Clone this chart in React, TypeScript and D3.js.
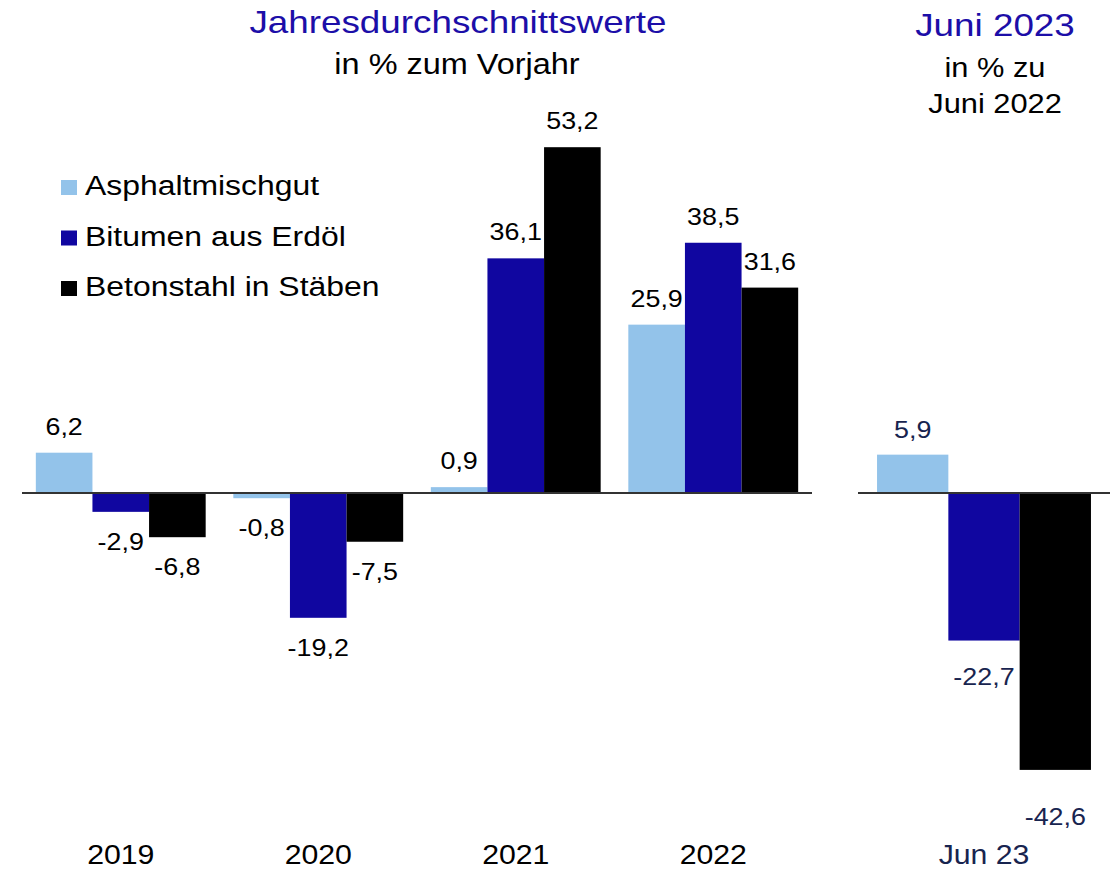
import React from 'react';
import * as d3 from 'd3';

// data
const years = ['2019', '2020', '2021', '2022'];
const seriesNames = ['Asphaltmischgut', 'Bitumen aus Erdöl', 'Betonstahl in Stäben'];
const asphalt = [6.2, -0.8, 0.9, 25.9];
const bitumen = [-2.9, -19.2, 36.1, 38.5];
const betonstahl = [-6.8, -7.5, 53.2, 31.6];
const juneCategory = ['Jun 23'];
const june2023 = [5.9, -22.7, -42.6];

const colors = ['#93c3ea', '#1006a0', '#000000'];
const titleBlue = '#1c0ea8';
const navy = '#18244f';
const font = "'Liberation Sans', Arial, sans-serif";

const fmt = d3.formatLocale({ decimal: ',', thousands: '.', grouping: [3], currency: ['', '€'], minus: '-' }).format('.1f');

const W = 1120;
const H = 871;

const y = d3.scaleLinear().domain([-45, 60]).range([493 + 45 * 6.5, 493 - 60 * 6.5]);

const xLeft = d3.scaleBand<string>().domain(years).range([22, 812]).paddingInner(0.14).paddingOuter(0.07);
const xInnerLeft = d3.scaleBand<string>().domain(seriesNames).range([0, xLeft.bandwidth()]);

const xRight = d3.scaleBand<string>().domain(juneCategory).range([858, 1110]).paddingOuter(0.089);
const xInnerRight = d3.scaleBand<string>().domain(seriesNames).range([0, xRight.bandwidth()]);

// extra label gaps below the negative June bars (as in the reference)
const juneNegGap = [44, 44, 55];

function Txt({ x, y, size, fill = '#000', anchor = 'middle', sx = 1.12, children }: any) {
  return (
    <text
      transform={`translate(${x},${y}) scale(${sx},1)`}
      textAnchor={anchor}
      fontSize={size}
      fill={fill}
      fontFamily={font}
    >
      {children}
    </text>
  );
}

export default function App() {
  const leftSeries = [asphalt, bitumen, betonstahl];

  return (
    <svg width={W} height={H} style={{ position: 'absolute', left: 0, top: 0, background: '#fff' }}>
      {/* titles */}
      <Txt x={458} y={33} size={32} fill={titleBlue} sx={1.15}>Jahresdurchschnittswerte</Txt>
      <Txt x={457} y={74} size={29} sx={1.12}>in % zum Vorjahr</Txt>
      <Txt x={995} y={36} size={32} fill={titleBlue} sx={1.15}>Juni 2023</Txt>
      <Txt x={995} y={77} size={28} sx={1.1}>in % zu</Txt>
      <Txt x={995} y={113} size={28} sx={1.1}>Juni 2022</Txt>

      {/* legend */}
      {seriesNames.map((name, i) => (
        <g key={name}>
          <rect x={61} y={180 + i * 50.5} width={16} height={15} fill={colors[i]} />
          <Txt x={85} y={195 + i * 50.5} size={28} anchor="start" sx={1.14}>{name}</Txt>
        </g>
      ))}

      {/* left panel bars */}
      {years.map((yr, gi) => (
        <g key={yr} transform={`translate(${xLeft(yr)},0)`}>
          {seriesNames.map((s, si) => {
            const v = leftSeries[si][gi];
            const x0 = xInnerLeft(s) as number;
            const bw = xInnerLeft.bandwidth();
            const top = Math.min(y(v), y(0));
            const h = Math.abs(y(v) - y(0));
            const ly = v >= 0 ? y(v) - 18 : y(v) + 38;
            return (
              <g key={s}>
                <rect x={x0} y={top} width={bw} height={h} fill={colors[si]} />
                <Txt x={x0 + bw / 2} y={ly} size={24} sx={1.12}>{fmt(v)}</Txt>
              </g>
            );
          })}
          <Txt x={xLeft.bandwidth() / 2} y={864} size={28} sx={1.08}>{yr}</Txt>
        </g>
      ))}

      {/* right panel bars */}
      {juneCategory.map((c) => (
        <g key={c} transform={`translate(${xRight(c)},0)`}>
          {seriesNames.map((s, si) => {
            const v = june2023[si];
            const x0 = xInnerRight(s) as number;
            const bw = xInnerRight.bandwidth();
            const top = Math.min(y(v), y(0));
            const h = Math.abs(y(v) - y(0));
            const ly = v >= 0 ? y(v) - 17 : y(v) + juneNegGap[si];
            return (
              <g key={s}>
                <rect x={x0} y={top} width={bw} height={h} fill={colors[si]} />
                <Txt x={x0 + bw / 2} y={ly} size={24} fill={navy} sx={1.12}>{fmt(v)}</Txt>
              </g>
            );
          })}
          <Txt x={xRight.bandwidth() / 2} y={864} size={28} fill={navy} sx={1.08}>{c}</Txt>
        </g>
      ))}

      {/* zero lines */}
      <line x1={22} x2={812} y1={y(0)} y2={y(0)} stroke="#333" strokeWidth={2} />
      <line x1={858} x2={1110} y1={y(0)} y2={y(0)} stroke="#333" strokeWidth={2} />
    </svg>
  );
}
